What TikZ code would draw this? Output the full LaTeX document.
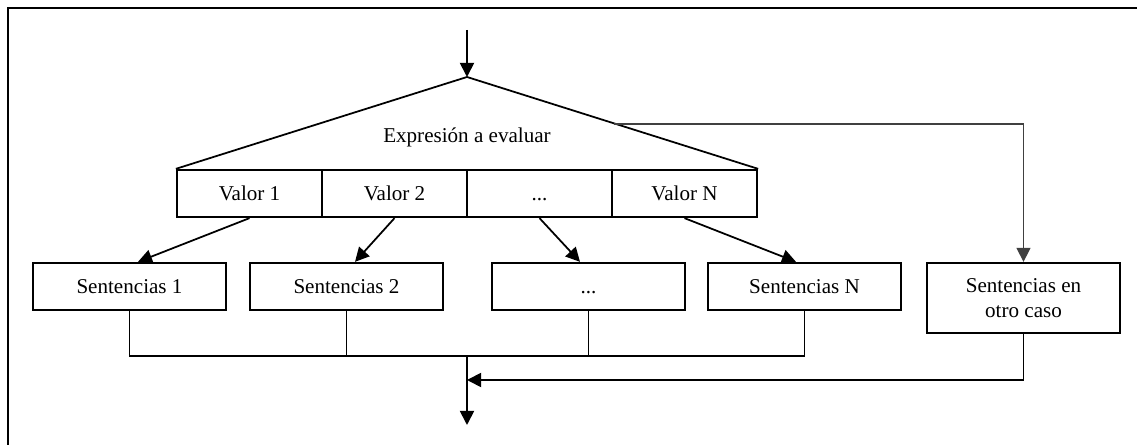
\documentclass[tikz,border=0pt]{standalone}
\usepackage{fontspec}
\setmainfont{Liberation Serif}
\usetikzlibrary{arrows.meta}

\begin{document}
\begin{tikzpicture}[every node/.style={font=\fontsize{12}{14}\selectfont},
    valor/.style={draw,line width=1.3pt,minimum width=2.9cm,minimum height=0.94cm,inner sep=0pt},
    sent/.style={draw,line width=1.3pt,minimum width=3.86cm,minimum height=0.94cm,inner sep=0pt,align=center},
    linea/.style={line width=1pt},
    flecha/.style={line width=1pt,-{Triangle[length=8pt,width=8pt]}}]
    \useasboundingbox (0,0) rectangle (22.74,8.9);
    % frame
    \draw[line width=1.5pt] (0.16,-0.2) -- (0.16,8.74) -- (23,8.74);

    % -------------------------
    % Switch head
    % -------------------------
    \coordinate (entrada) at (9.34,8.30);
    \coordinate (apex) at (9.34,7.36);
    \node (expr) at (9.34,6.16) {Expresión a evaluar};

    \node[valor] (v1) at (4.99,5.03) {Valor 1};
    \node[valor] (v2) at (7.89,5.03) {Valor 2};
    \node[valor] (v3) at (10.79,5.03) {\vphantom{V}...};
    \node[valor] (vN) at (13.69,5.03) {Valor N};

    \draw[line width=1pt] (v1.north west) -- (apex) -- (vN.north east);
    \draw[flecha] (entrada) -- (apex);

    % -------------------------
    % Sentences
    % -------------------------
    \node[sent] (s1) at (2.59,3.17) {Sentencias 1};
    \node[sent] (s2) at (6.93,3.17) {Sentencias 2};
    \node[sent] (s3) at (11.77,3.17) {\vphantom{V}...};
    \node[sent] (sN) at (16.09,3.17) {Sentencias N};
    \node[sent,minimum height=1.4cm] (otro) at (20.47,2.94) {Sentencias en\\otro caso};

    \draw[flecha] (v1.south) -- ([xshift=0.17cm]s1.north);
    \draw[flecha] (v2.south) -- ([xshift=0.17cm]s2.north);
    \draw[flecha] (v3.south) -- ([xshift=-0.17cm]s3.north);
    \draw[flecha] (vN.south) -- ([xshift=-0.17cm]sN.north);

    % default branch from the triangle edge
    \coordinate (lado) at (12.27,6.42);
    \draw[line width=0.8pt,black!75,-{Triangle[length=8pt,width=8pt]}] (lado) -| (otro.north);

    % -------------------------
    % Join
    % -------------------------
    \coordinate (union) at (9.34,1.78);
    \coordinate (junta) at (9.34,1.30);
    \coordinate (salida) at (9.34,0.40);
    \draw[linea] (s1.south) |- (union) -| (sN.south);
    \draw[linea] (s2.south) -- (s2.south |- union);
    \draw[linea] (s3.south) -- (s3.south |- union);
    \draw[flecha] (union) -- (salida);
    \draw[flecha] (otro.south) |- (junta);

\end{tikzpicture}
\end{document}
